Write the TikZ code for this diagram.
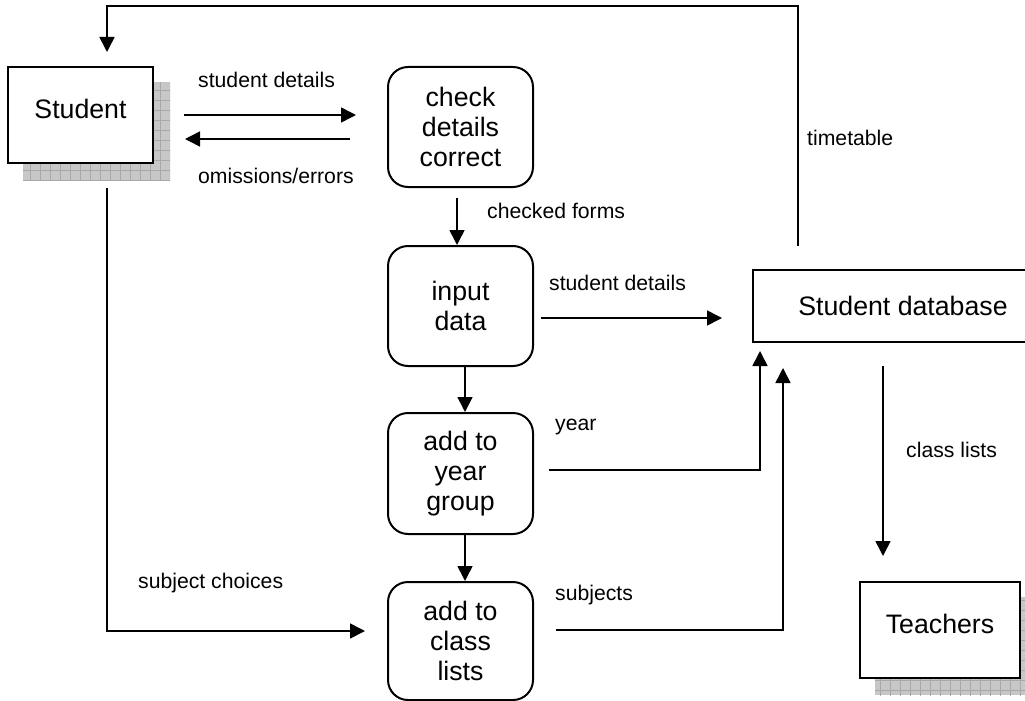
\documentclass[tikz,border=0pt]{standalone}
\usepackage{fontspec}
\setmainfont{Liberation Sans}
\usetikzlibrary{arrows.meta, positioning, calc, backgrounds}

\begin{document}
\begin{tikzpicture}[
  x=1pt, y=-1pt,
  box/.style    ={draw, line width=2pt, align=center, inner sep=0pt, fill=white, font=\fontsize{26.7}{30}\selectfont},
  proc/.style   ={box, rounded corners=20pt, minimum width=145pt, minimum height=120pt},
  entity/.style ={box, minimum width=145pt, minimum height=96pt, text height=19pt, text depth=12pt},
  store/.style  ={box, minimum width=300pt, minimum height=72pt},
  flow/.style   ={-{Triangle[length=15pt, width=15pt]}, line width=1.6pt},
  lbl/.style    ={anchor=west, inner sep=0pt, font=\fontsize{21.2}{25}\selectfont},
  shade/.style  ={fill=black!22},
  shadegrid/.style={draw=black!34, line width=0.6pt},
]
\useasboundingbox (0,0) rectangle (1025,701);
\clip (0,0) rectangle (1025,701);
% ----- external entities -----
\node[entity] (student) at (80.5,115) {Student};
\node[entity, minimum width=160pt] (teachers) at (940,630) {Teachers};
% ----- processes -----
\node[proc] (check) at (460.5,127) {check\\details\\correct};
\node[proc] (input) at (460.5,306) {input\\data};
\node[proc, minimum height=121pt] (year) at (460.5,473.5) {add to\\year\\group};
\node[proc, minimum height=118pt] (class) at (460.5,641) {add to\\class\\lists};
% ----- data store -----
\node[store] (db) at (903,306) {Student database};
% ----- shadows -----
\begin{scope}[on background layer]
  \foreach \ent in {student, teachers} {
    \begin{scope}
      \fill[shade] ($(\ent.south west)+(16,16)$) rectangle ($(\ent.north east)+(16,16)$);
      \clip ($(\ent.south west)+(16,16)$) rectangle ($(\ent.north east)+(16,16)$);
      \draw[shadegrid, step=10pt] ($(\ent.south west)+(0,30)$) grid ($(\ent.north east)+(30,0)$);
    \end{scope}
  }
\end{scope}
% ----- flows -----
\coordinate (topline) at (450,6);
\draw[flow] ([xshift=30]student.east) -- ([xshift=-31]check.west |- student.east);
\draw[flow] ($(check.west)+(-37,12)$) -- ($(student.east |- check.west)+(31,12)$);
\draw[flow] ($(check.south)+(-3.5,10)$) -- ($(input.north)+(-3.5,0)$);
\draw[flow] ($(input.south)+(4.5,0)$) -- ($(year.north)+(4.5,0)$);
\draw[flow] ($(year.south)+(4.5,0)$) -- ($(class.north)+(4.5,0)$);
\draw[flow] ($(input.east)+(7,12)$) -- ($(db.west)+(-30,12)$);
\draw[flow] ($(year.east)+(15,-3.5)$) -| ($(db.south west)+(8,8)$);
\draw[flow] ($(class.east)+(22,-11)$) -| ($(db.south west)+(31,25)$);
\draw[flow] ($(student.south)+(26.5,24)$) |- ($(class.west)+(-22,-10)$);
\draw[flow] ($(db.north west)+(46,-23)$) |- (topline) -| ($(student.north)+(26.5,-14)$);
\draw[flow] ($(db.south)+(-20,23)$) -- ($(teachers.north)+(-57,-25)$);
% ----- labels -----
\node[lbl] (lsdetails) at (198,80) {student details};
\node[lbl] (lomit) at (198,176) {omissions/errors};
\node[lbl] (lchecked) at (487,211) {checked forms};
\node[lbl] (ltime) at (807,138) {timetable};
\node[lbl] (lindetails) at (549,283) {student details};
\node[lbl] (lyear) at (555,427) {year};
\node[lbl] (lsubj) at (555,595) {subjects};
\node[lbl] (lchoice) at (138,583) {subject choices};
\node[lbl] (lclass) at (906,450) {class lists};
\end{tikzpicture}
\end{document}
